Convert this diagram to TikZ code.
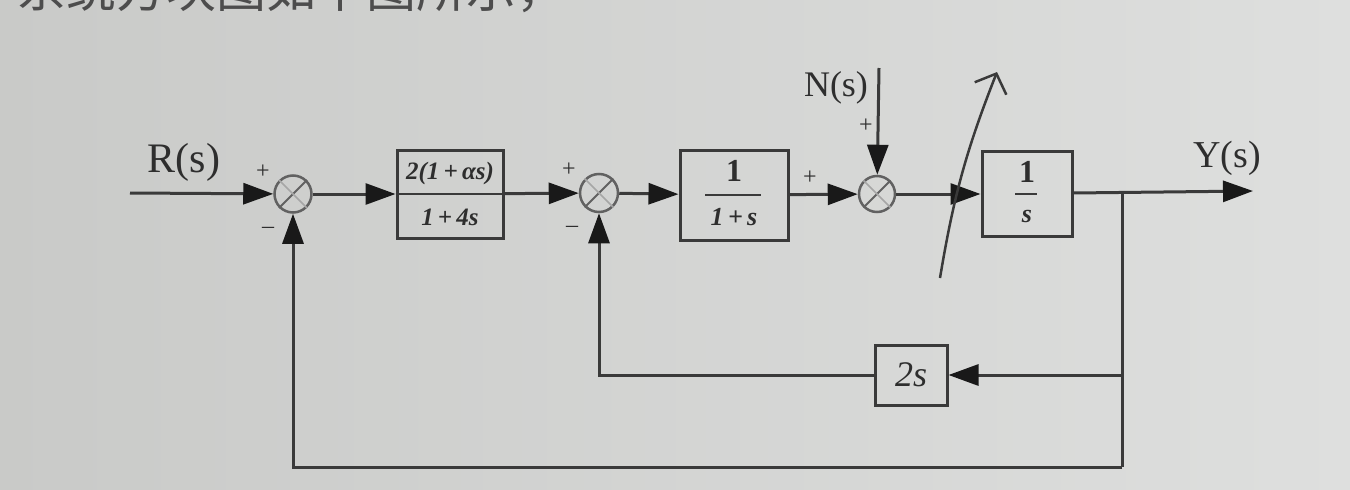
\documentclass[tikz,border=0pt]{standalone}
\usepackage{fontspec}
\setmainfont{Liberation Serif}
\newfontfamily\cjk{Noto Sans CJK SC}
\usetikzlibrary{arrows.meta}
\definecolor{bgL}{HTML}{C9CAC8}
\definecolor{bgR}{HTML}{DEDFDE}
\definecolor{ink}{HTML}{3A3A3A}
\definecolor{txt}{HTML}{2E2E2E}
\tikzset{
  wire/.style={draw=ink, line width=3pt},
  arr/.style={wire, -{Triangle[length=30pt,width=21pt,fill=black!90,color=black!90]}},
  blockbox/.style={draw=ink, line width=3pt, rectangle, inner sep=0pt},
  sumnode/.style={draw=ink!80, line width=2.5pt, circle, inner sep=0pt},
  sign/.style={text=txt, font=\fontsize{24}{26}\selectfont, inner sep=0pt},
  biglabel/.style={text=txt, font=\fontsize{42}{46}\selectfont, inner sep=0pt},
  blocktext/.style={text=txt, inner sep=0pt}
}
\begin{document}
\begin{tikzpicture}[x=1pt,y=-1pt]
\useasboundingbox (0,0) rectangle (1350,490);
\shade[left color=bgL, right color=bgR] (0,0) rectangle (1350,490);
% cut-off heading (the reference shows only its lower part)
\node[anchor=base west, inner sep=0pt, text=txt!85, font=\cjk\fontsize{50}{54}\selectfont] (head) at (16,7) {系统方块图如下图所示，};

% nodes
\coordinate (rin) at (130,193);
\node[sumnode, minimum size=37pt] (s1) at (293,194) {};
\node[blockbox, minimum width=106pt, minimum height=88pt] (b1) at (450,194) {};
\node[sumnode, minimum size=38pt] (s2) at (599,193) {};
\node[blockbox, minimum width=108pt, minimum height=90pt] (b2) at (734,195) {};
\node[sumnode, minimum size=36pt] (s3) at (877,194) {};
\node[blockbox, minimum width=90pt, minimum height=85pt] (b3) at (1027,194) {};
\coordinate (j) at (1122,193);
\coordinate (yout) at (1253,191);
\node[blockbox, minimum width=72pt, minimum height=60pt] (b4) at (911,375) {};
\coordinate (nin) at (879,68);
\coordinate (jb) at (1122,467);
\coordinate (j2) at (1122,375);
\coordinate (c1) at (293,467);
\coordinate (c2) at (599,375);

% sum crosses
\foreach \s in {s1,s2,s3}{
  \draw[ink!80, line width=2pt] (\s.north east) -- (\s.south west);
  \draw[ink!45, line width=1.5pt] (\s.north west) -- (\s.south east);
}

% block contents
\node[blocktext, font=\bfseries\itshape\fontsize{25}{27}\selectfont] (b1n) at ([yshift=21pt]b1.center) {2(1\,+\,αs)};
\node[blocktext, font=\bfseries\itshape\fontsize{25}{27}\selectfont] (b1d) at ([yshift=-23pt]b1.center) {1\,+\,4s};
\draw[ink, line width=2.5pt] (b1.west) -- (b1.east);

\node[blocktext, font=\bfseries\fontsize{32}{34}\selectfont] (b2n) at ([yshift=24pt]b2.center) {1};
\node[blocktext, font=\bfseries\itshape\fontsize{26}{28}\selectfont] (b2d) at ([yshift=-22pt]b2.center) {1\,+\,s};
\draw[ink, line width=2.5pt] ([xshift=-29pt]b2.center) -- ([xshift=27pt]b2.center);

\node[blocktext, font=\bfseries\fontsize{32}{34}\selectfont] (b3n) at ([yshift=22pt]b3.center) {1};
\node[blocktext, font=\bfseries\itshape\fontsize{26}{28}\selectfont] (b3d) at ([yshift=-22pt]b3.center) {s};
\draw[ink, line width=2.5pt] ([xshift=-12pt]b3.center) -- ([xshift=10pt]b3.center);

\node[blocktext, font=\itshape\fontsize{36}{38}\selectfont] (b4t) at (b4.center) {2s};

% labels
\node[biglabel] (rlab) at (184,162) {R(s)};
\node[biglabel, font=\fontsize{36}{40}\selectfont] (nlab) at (836,88) {N(s)};
\node[biglabel, anchor=west, font=\fontsize{38}{42}\selectfont] (ylab) at (1193,158) {Y(s)};

\node[sign] (p1) at (263,172) {+};
\node[sign] (m1) at (268,230) {–};
\node[sign] (p2) at (569,170) {+};
\node[sign] (m2) at (572,229) {–};
\node[sign] (p3) at (810,178) {+};
\node[sign] (p4) at (866,126) {+};

% forward path
\draw[arr] (rin) -- (s1);
\draw[arr] (s1) -- (b1);
\draw[arr] (b1) -- (s2);
\draw[arr] (s2) -- (b2);
\draw[arr] (b2) -- (s3);
\draw[arr] (nin) -- (s3);
\draw[arr] (s3) -- (b3);
\draw[arr] (b3.east |- j) -- (yout);

% feedback paths
\draw[wire] (j) -- (jb);
\draw[arr] (j2) -- (b4);
\draw[arr] (b4.west) -- (c2) -- (s2);
\draw[arr] (jb) -- (c1) -- (s1);

% hand-drawn variable arrow
\coordinate (va) at (940,278);
\coordinate (vb) at (997,72);
\draw[ink, line width=2.5pt, -{Straight Barb[length=16pt,width=34pt]}] (va) to[bend left=6] (vb);
\end{tikzpicture}
\end{document}
